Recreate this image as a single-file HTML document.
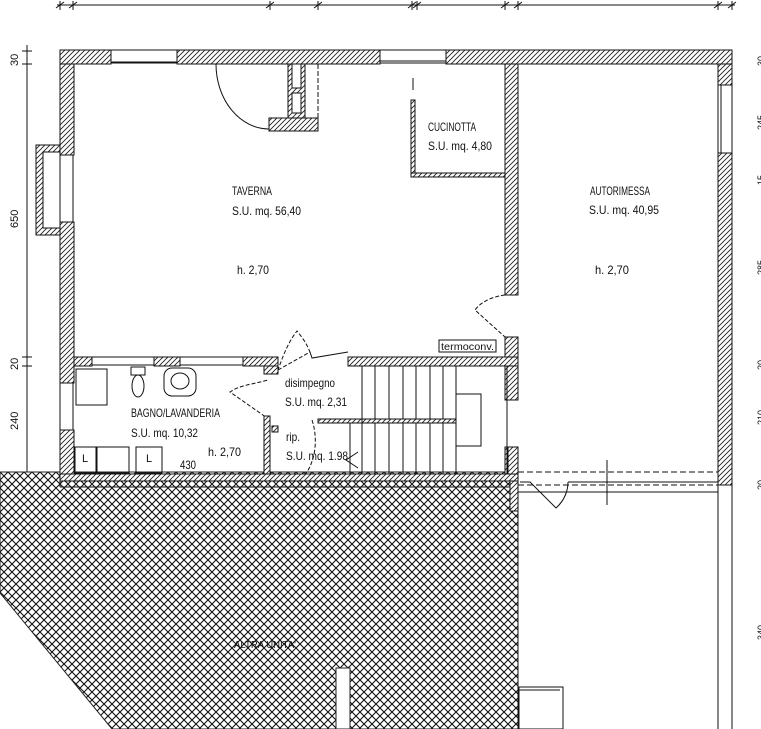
<!DOCTYPE html>
<html><head><meta charset="utf-8"><style>
html,body{margin:0;padding:0;background:#fff;}
svg{display:block;}
text{font-family:"Liberation Sans",sans-serif;fill:#111;}
</style></head><body>
<svg width="761" height="729" viewBox="0 0 761 729" xmlns="http://www.w3.org/2000/svg">
<defs>
<pattern id="h" patternUnits="userSpaceOnUse" width="5" height="5">
<rect width="5" height="5" fill="#fff"/>
<path d="M-1,6 L6,-1 M-1,1 L1,-1 M4,6 L6,4" stroke="#222" stroke-width="0.9"/>
</pattern>
<pattern id="x" patternUnits="userSpaceOnUse" width="8" height="8">
<rect width="8" height="8" fill="#fff"/>
<path d="M0,0 L8,8 M8,0 L0,8" stroke="#111" stroke-width="1.1"/>
</pattern>
</defs>
<g stroke="#111" stroke-width="1" fill="none">
<line x1="57" y1="5" x2="735" y2="5"/>
<path d="M60,1v9 M73,1v9 M270,1v9 M318,1v9 M412,1v9 M417,1v9 M505,1v9 M518,1v9 M718,1v9 M732,1v9"/>
<path d="M56,8l8,-6 M69,8l8,-6 M266,8l8,-6 M314,8l8,-6 M408,8l8,-6 M413,8l8,-6 M501,8l8,-6 M514,8l8,-6 M714,8l8,-6 M728,8l8,-6"/>
<line x1="27" y1="45" x2="27" y2="490"/>
<path d="M22,51h10 M22,64h10 M22,357h10 M22,366h10 M22,474h10 M22,487h10"/>
</g>
<g font-size="11">
<text transform="translate(18,66) rotate(-90)">30</text>
<text transform="translate(18,228) rotate(-90)">650</text>
<text transform="translate(18,370) rotate(-90)">20</text>
<text transform="translate(18,430) rotate(-90)">240</text>
<text transform="translate(18,490) rotate(-90)">30</text>
<text transform="translate(764,66) rotate(-90)" font-size="9">30</text>
<text transform="translate(764,130) rotate(-90)" font-size="9">245</text>
<text transform="translate(764,185) rotate(-90)" font-size="9">15</text>
<text transform="translate(764,275) rotate(-90)" font-size="9">285</text>
<text transform="translate(764,370) rotate(-90)" font-size="9">20</text>
<text transform="translate(764,425) rotate(-90)" font-size="9">210</text>
<text transform="translate(764,490) rotate(-90)" font-size="9">20</text>
<text transform="translate(764,640) rotate(-90)" font-size="9">340</text>
</g>

<path d="M0,472 L518,472 L518,729 L112,729 L0,593 Z" fill="url(#x)" stroke="#222"/>
<rect x="336" y="668" width="14" height="61" fill="#fff" stroke="#222"/>
<text x="234" y="648" font-size="10" textLength="62" lengthAdjust="spacingAndGlyphs">ALTRA UNITA'</text>

<g stroke="#111" stroke-width="1">
<rect x="60" y="50" width="51" height="14" fill="url(#h)"/>
<rect x="111" y="50" width="66" height="13" fill="#fff"/>
<line x1="111" y1="62" x2="177" y2="62"/>
<rect x="177" y="50" width="203" height="14" fill="url(#h)"/>
<rect x="380" y="50" width="66" height="13" fill="#fff"/>
<line x1="380" y1="61" x2="446" y2="61"/>
<rect x="446" y="50" width="286" height="14" fill="url(#h)"/>
<rect x="718" y="64" width="14" height="21" fill="url(#h)"/>
<rect x="718" y="85" width="14" height="68" fill="#fff"/>
<line x1="721" y1="85" x2="721" y2="153"/>
<rect x="718" y="153" width="14" height="332" fill="url(#h)"/>
<line x1="718" y1="485" x2="718" y2="729" fill="none"/>
<line x1="732" y1="485" x2="732" y2="729" fill="none"/>
<rect x="60" y="64" width="14" height="91" fill="url(#h)"/>
<rect x="60" y="155" width="13" height="67" fill="#fff"/>
<rect x="60" y="222" width="14" height="161" fill="url(#h)"/>
<rect x="60" y="383" width="13" height="47" fill="#fff"/>
<rect x="60" y="430" width="14" height="50" fill="url(#h)"/>
<rect x="36" y="145" width="24" height="90" fill="url(#h)"/>
<rect x="43" y="152" width="17" height="76" fill="#fff"/>
<rect x="288" y="64" width="17" height="54" fill="url(#h)"/>
<rect x="292" y="64" width="9" height="24" fill="#fff"/>
<rect x="292" y="93" width="9" height="20" fill="#fff"/>
<rect x="269" y="118" width="49" height="13" fill="url(#h)"/>
<line x1="318" y1="64" x2="318" y2="118" stroke-dasharray="5,2"/>
<path d="M216,64 A53,65 0 0 0 269,129" fill="none"/>
<line x1="413" y1="78" x2="413" y2="90"/>
<rect x="411" y="100" width="4" height="77" fill="url(#h)"/>
<rect x="411" y="173" width="94" height="4" fill="url(#h)"/>
<rect x="505" y="64" width="13" height="231" fill="url(#h)"/>
<rect x="505" y="337" width="13" height="63" fill="url(#h)"/>
<rect x="505" y="447" width="13" height="33" fill="url(#h)"/>
<line x1="508" y1="447" x2="508" y2="480"/>
<path d="M505,295 C490,297 480,303 475,310 L505,337" fill="none" stroke-dasharray="4,2"/>
<rect x="439" y="340" width="57" height="12" fill="#fff"/>
<rect x="74" y="357" width="18" height="9" fill="url(#h)"/>
<rect x="92" y="357" width="62" height="8" fill="#fff"/>
<rect x="154" y="357" width="26" height="9" fill="url(#h)"/>
<rect x="180" y="357" width="63" height="8" fill="#fff"/>
<rect x="243" y="357" width="35" height="9" fill="url(#h)"/>
<rect x="264" y="366" width="14" height="8" fill="url(#h)"/>
<path d="M278,370 L310,352 C305,340 300,335 297,331 C290,340 285,350 278,370" fill="none" stroke-dasharray="4,2"/>
<path d="M310,352 L312,358 L348,352" fill="none"/>
<path d="M270,420 L230,392 C240,385 250,385 268,380" fill="none" stroke-dasharray="4,2"/>
<rect x="264" y="416" width="6" height="59" fill="url(#h)"/>
<rect x="272" y="426" width="6" height="6" fill="url(#h)"/>
<path d="M312,420 C318,438 316,460 305,475" fill="none" stroke-dasharray="4,2"/>
<rect x="348" y="357" width="170" height="9" fill="url(#h)"/>
<rect x="318" y="419" width="138" height="4" fill="url(#h)"/>
<rect x="362" y="366" width="145" height="108" fill="none"/>
<path d="M375,366v53 M389,366v53 M403,366v53 M416,366v53 M430,366v53 M443,366v53 M456,366v53
M350,423v51 M362,423v51 M375,423v51 M389,423v51 M403,423v51 M416,423v51 M430,423v51 M443,423v51 M456,423v51" fill="none"/>
<rect x="456" y="394" width="25" height="52" fill="none"/>
<path d="M358,452 L346,460 L358,468" fill="none"/>
<rect x="60" y="474" width="458" height="7" fill="url(#h)"/>
<line x1="60" y1="487" x2="518" y2="487"/>
<line x1="60" y1="481" x2="60" y2="487"/>
<rect x="510" y="481" width="8" height="30" fill="url(#h)"/>
<line x1="518" y1="475" x2="518" y2="729"/>
<rect x="76" y="369" width="31" height="36" fill="none"/>
<rect x="131" y="367" width="14" height="8" fill="none"/>
<ellipse cx="138" cy="386" rx="6" ry="11" fill="none"/>
<rect x="164" y="368" width="32" height="28" rx="8" fill="none"/>
<ellipse cx="180" cy="381" rx="9" ry="8" fill="none"/>
<rect x="75" y="447" width="21" height="26" fill="none"/>
<rect x="97" y="447" width="32" height="26" fill="none"/>
<rect x="136" y="447" width="26" height="26" fill="none"/>
<line x1="518" y1="472" x2="718" y2="472" stroke-dasharray="6,3"/>
<line x1="518" y1="485" x2="718" y2="485" stroke-dasharray="6,3"/>
<line x1="568" y1="482" x2="718" y2="482"/>
<line x1="518" y1="492" x2="718" y2="492"/>
<path d="M520,482 L530,482 L556,508 C565,500 568,490 568,482" fill="none"/>
<line x1="607" y1="460" x2="607" y2="505"/>
<rect x="519" y="687" width="44" height="42" fill="#fff"/>
<line x1="519" y1="690" x2="560" y2="690"/>
</g>

<g font-size="12">
<text x="232" y="195" textLength="40" lengthAdjust="spacingAndGlyphs">TAVERNA</text>
<text x="232" y="215" textLength="69" lengthAdjust="spacingAndGlyphs">S.U. mq. 56,40</text>
<text x="237" y="274" textLength="32" lengthAdjust="spacingAndGlyphs">h. 2,70</text>
<text x="428" y="131" textLength="48" lengthAdjust="spacingAndGlyphs">CUCINOTTA</text>
<text x="428" y="150" textLength="64" lengthAdjust="spacingAndGlyphs">S.U. mq. 4,80</text>
<text x="590" y="195" textLength="60" lengthAdjust="spacingAndGlyphs">AUTORIMESSA</text>
<text x="589" y="214" textLength="70" lengthAdjust="spacingAndGlyphs">S.U. mq. 40,95</text>
<text x="595" y="274" textLength="34" lengthAdjust="spacingAndGlyphs">h. 2,70</text>
<text x="441" y="350" font-size="10" textLength="53" lengthAdjust="spacingAndGlyphs">termoconv.</text>
<text x="285" y="387" textLength="50" lengthAdjust="spacingAndGlyphs">disimpegno</text>
<text x="285" y="406" textLength="62" lengthAdjust="spacingAndGlyphs">S.U. mq. 2,31</text>
<text x="131" y="417" textLength="89" lengthAdjust="spacingAndGlyphs">BAGNO/LAVANDERIA</text>
<text x="131" y="437" textLength="67" lengthAdjust="spacingAndGlyphs">S.U. mq. 10,32</text>
<text x="208" y="456" textLength="33" lengthAdjust="spacingAndGlyphs">h. 2,70</text>
<text x="180" y="469" textLength="16" lengthAdjust="spacingAndGlyphs">430</text>
<text x="286" y="441" textLength="14" lengthAdjust="spacingAndGlyphs">rip.</text>
<text x="286" y="460" textLength="62" lengthAdjust="spacingAndGlyphs">S.U. mq. 1.98</text>
<text x="82" y="462" font-size="11">L</text>
<text x="146" y="462" font-size="11">L</text>
</g>
</svg>
</body></html>
